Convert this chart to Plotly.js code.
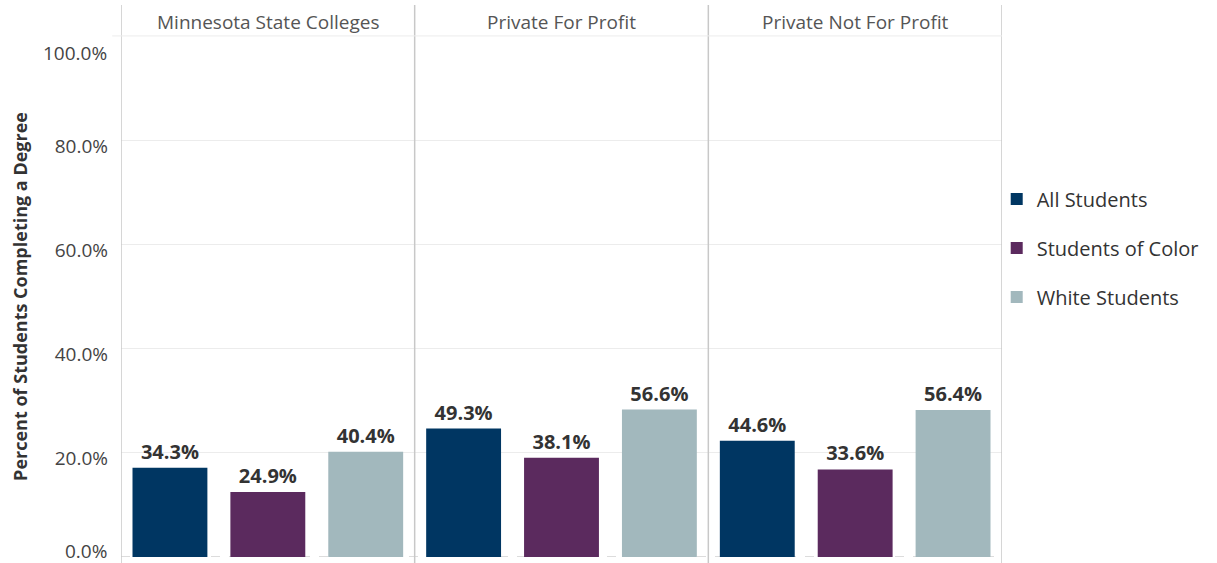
<!DOCTYPE html>
<html>
<head>
<meta charset="utf-8">
<script src="https://cdn.plot.ly/plotly-3.0.1.min.js"></script>
<style>
  html, body { margin: 0; padding: 0; background: #fff; }
  #chart { width: 1217px; height: 563px; }
</style>
</head>
<body>
<div id="chart"></div>
<script>
// sectors (panels) and the three student groups
var sectors = ["Minnesota State Colleges", "Private For Profit", "Private Not For Profit"];
var seriesNames = ["All Students", "Students of Color", "White Students"];
var allStudents = [34.3, 49.3, 44.6];
var studentsOfColor = [24.9, 38.1, 33.6];
var whiteStudents = [40.4, 56.6, 56.4];
var tickValues = [0, 40, 80, 120, 160, 200];
var tickLabels = ["0.0%", "20.0%", "40.0%", "60.0%", "80.0%", "100.0%"];

var colors = ["#003662", "#5b2a5e", "#a2b8bd"];
var values = [allStudents, studentsOfColor, whiteStudents];
var tickFont = { family: "Open Sans", size: 19, color: "#444444" };

var data = [];
for (var i = 0; i < seriesNames.length; i++) {
  data.push({
    type: "bar",
    name: seriesNames[i],
    legendgroup: "g" + i,
    x: sectors,
    y: values[i],
    marker: { color: colors[i] },
    texttemplate: "%{y:.1f}%",
    textposition: "outside",
    cliponaxis: false,
    textfont: { family: "Open Sans", size: 20, color: "#333333", weight: "bold" },
    hoverinfo: "none"
  });
}

var shapes = [];
// dashed zero line under the bars
shapes.push({
  type: "line", xref: "paper", yref: "y", layer: "below",
  x0: 0, x1: 1, y0: 0, y1: 0,
  line: { color: "#b8b8b8", width: 1, dash: "dash" }
});
// vertical separators between panels
for (var k = 0; k <= sectors.length; k++) {
  shapes.push({
    type: "line", xref: "x", yref: "paper",
    x0: k - 0.5, x1: k - 0.5, y0: -0.02, y1: 1,
    line: { color: "#c8c8c8", width: 1.5 }
  });
}
// header separator
shapes.push({
  type: "line", xref: "paper", yref: "paper",
  x0: -0.01, x1: 1, y0: 0.944, y1: 0.944,
  line: { color: "#ececec", width: 1 }
});

var annotations = sectors.map(function (s) {
  return {
    text: s, xref: "x", yref: "paper", x: s, y: 0.97,
    showarrow: false, yanchor: "middle",
    font: { family: "Open Sans", size: 19, color: "#555555" }
  };
});

// end labels sit inside the plot edges, as in the original
var edgeLabels = [
  { idx: 0, shift: 6 },
  { idx: tickValues.length - 1, shift: -17 }
];
edgeLabels.forEach(function (e) {
  annotations.push({
    text: tickLabels[e.idx], xref: "paper", yref: "y",
    x: 0, y: tickValues[e.idx], xanchor: "right", yanchor: "middle",
    xshift: -12, yshift: e.shift, showarrow: false,
    font: tickFont
  });
});
var axisText = tickLabels.map(function (t, j) {
  return (j === 0 || j === tickLabels.length - 1) ? "" : t;
});

var layout = {
  width: 1217,
  height: 563,
  margin: { l: 121, r: 215, t: 5, b: 6 },
  paper_bgcolor: "#ffffff",
  plot_bgcolor: "#ffffff",
  barmode: "group",
  bargap: 0,
  bargroupgap: 0.235,
  showlegend: true,
  legend: {
    x: 0.994, xanchor: "left", y: 0.56, yanchor: "middle",
    bgcolor: "rgba(0,0,0,0)",
    traceorder: "grouped", tracegroupgap: 20,
    font: { family: "Open Sans", size: 20, color: "#333333" }
  },
  xaxis: {
    type: "category",
    range: [-0.5, 2.5],
    showticklabels: false,
    showgrid: false,
    zeroline: false,
    fixedrange: true
  },
  yaxis: {
    domain: [0, 0.944],
    range: [0, 200],
    tickvals: tickValues,
    ticktext: axisText,
    showgrid: true,
    gridcolor: "#ececec",
    zeroline: false,
    showline: false,
    ticks: "",
    ticklabelstandoff: 12,
    ticklabelshift: 6,
    tickfont: tickFont,
    title: {
      text: "Percent of Students Completing a Degree",
      standoff: 22,
      font: { family: "Open Sans", size: 18, color: "#333333", weight: "bold" }
    }
  },
  shapes: shapes,
  annotations: annotations
};

Plotly.newPlot("chart", data, layout, { displayModeBar: false, staticPlot: true });
</script>
</body>
</html>
